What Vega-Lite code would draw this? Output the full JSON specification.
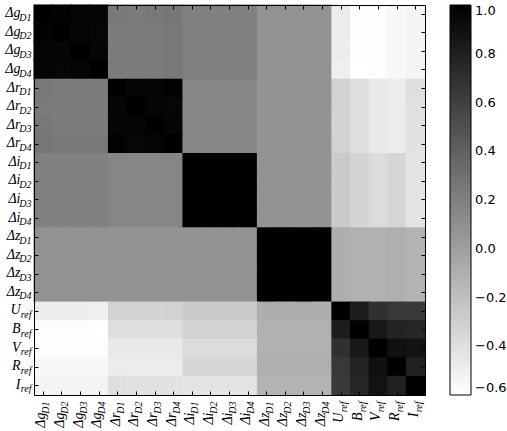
{
"$schema": "https://vega.github.io/schema/vega-lite/v6.json",
"width": 391, "height": 390,
"autosize": "none",
"padding": {"left": 34, "top": 5, "right": 82, "bottom": 36},
"background": "white",
"config": {"view": {"stroke": null}, "axis": {"grid": false, "title": null}},
"data": {"values": [
{"a":"g1","b":"g1","v":1},{"a":"g1","b":"g2","v":0.98},{"a":"g1","b":"g3","v":0.97},{"a":"g1","b":"g4","v":0.97},{"a":"g1","b":"r1","v":0.24},{"a":"g1","b":"r2","v":0.23},{"a":"g1","b":"r3","v":0.25},{"a":"g1","b":"r4","v":0.26},{"a":"g1","b":"i1","v":0.2},{"a":"g1","b":"i2","v":0.2},{"a":"g1","b":"i3","v":0.2},{"a":"g1","b":"i4","v":0.2},{"a":"g1","b":"z1","v":0.085},{"a":"g1","b":"z2","v":0.085},{"a":"g1","b":"z3","v":0.085},{"a":"g1","b":"z4","v":0.085},{"a":"g1","b":"U","v":-0.48},{"a":"g1","b":"B","v":-0.59},{"a":"g1","b":"V","v":-0.59},{"a":"g1","b":"R","v":-0.55},{"a":"g1","b":"I","v":-0.53},
{"a":"g2","b":"g1","v":0.98},{"a":"g2","b":"g2","v":1},{"a":"g2","b":"g3","v":0.97},{"a":"g2","b":"g4","v":0.96},{"a":"g2","b":"r1","v":0.22},{"a":"g2","b":"r2","v":0.22},{"a":"g2","b":"r3","v":0.22},{"a":"g2","b":"r4","v":0.25},{"a":"g2","b":"i1","v":0.2},{"a":"g2","b":"i2","v":0.2},{"a":"g2","b":"i3","v":0.2},{"a":"g2","b":"i4","v":0.2},{"a":"g2","b":"z1","v":0.085},{"a":"g2","b":"z2","v":0.085},{"a":"g2","b":"z3","v":0.085},{"a":"g2","b":"z4","v":0.085},{"a":"g2","b":"U","v":-0.48},{"a":"g2","b":"B","v":-0.59},{"a":"g2","b":"V","v":-0.59},{"a":"g2","b":"R","v":-0.55},{"a":"g2","b":"I","v":-0.53},
{"a":"g3","b":"g1","v":0.97},{"a":"g3","b":"g2","v":0.97},{"a":"g3","b":"g3","v":1},{"a":"g3","b":"g4","v":0.97},{"a":"g3","b":"r1","v":0.22},{"a":"g3","b":"r2","v":0.22},{"a":"g3","b":"r3","v":0.22},{"a":"g3","b":"r4","v":0.24},{"a":"g3","b":"i1","v":0.2},{"a":"g3","b":"i2","v":0.2},{"a":"g3","b":"i3","v":0.2},{"a":"g3","b":"i4","v":0.2},{"a":"g3","b":"z1","v":0.085},{"a":"g3","b":"z2","v":0.085},{"a":"g3","b":"z3","v":0.085},{"a":"g3","b":"z4","v":0.085},{"a":"g3","b":"U","v":-0.48},{"a":"g3","b":"B","v":-0.59},{"a":"g3","b":"V","v":-0.59},{"a":"g3","b":"R","v":-0.55},{"a":"g3","b":"I","v":-0.53},
{"a":"g4","b":"g1","v":0.97},{"a":"g4","b":"g2","v":0.96},{"a":"g4","b":"g3","v":0.97},{"a":"g4","b":"g4","v":1},{"a":"g4","b":"r1","v":0.23},{"a":"g4","b":"r2","v":0.22},{"a":"g4","b":"r3","v":0.22},{"a":"g4","b":"r4","v":0.25},{"a":"g4","b":"i1","v":0.2},{"a":"g4","b":"i2","v":0.2},{"a":"g4","b":"i3","v":0.2},{"a":"g4","b":"i4","v":0.2},{"a":"g4","b":"z1","v":0.085},{"a":"g4","b":"z2","v":0.085},{"a":"g4","b":"z3","v":0.085},{"a":"g4","b":"z4","v":0.085},{"a":"g4","b":"U","v":-0.5},{"a":"g4","b":"B","v":-0.6},{"a":"g4","b":"V","v":-0.59},{"a":"g4","b":"R","v":-0.55},{"a":"g4","b":"I","v":-0.53},
{"a":"r1","b":"g1","v":0.24},{"a":"r1","b":"g2","v":0.22},{"a":"r1","b":"g3","v":0.22},{"a":"r1","b":"g4","v":0.23},{"a":"r1","b":"r1","v":1},{"a":"r1","b":"r2","v":0.97},{"a":"r1","b":"r3","v":0.97},{"a":"r1","b":"r4","v":0.99},{"a":"r1","b":"i1","v":0.16},{"a":"r1","b":"i2","v":0.16},{"a":"r1","b":"i3","v":0.16},{"a":"r1","b":"i4","v":0.16},{"a":"r1","b":"z1","v":0.08},{"a":"r1","b":"z2","v":0.08},{"a":"r1","b":"z3","v":0.08},{"a":"r1","b":"z4","v":0.08},{"a":"r1","b":"U","v":-0.32},{"a":"r1","b":"B","v":-0.39},{"a":"r1","b":"V","v":-0.46},{"a":"r1","b":"R","v":-0.48},{"a":"r1","b":"I","v":-0.4},
{"a":"r2","b":"g1","v":0.23},{"a":"r2","b":"g2","v":0.22},{"a":"r2","b":"g3","v":0.22},{"a":"r2","b":"g4","v":0.22},{"a":"r2","b":"r1","v":0.97},{"a":"r2","b":"r2","v":1},{"a":"r2","b":"r3","v":0.97},{"a":"r2","b":"r4","v":0.96},{"a":"r2","b":"i1","v":0.16},{"a":"r2","b":"i2","v":0.16},{"a":"r2","b":"i3","v":0.16},{"a":"r2","b":"i4","v":0.16},{"a":"r2","b":"z1","v":0.08},{"a":"r2","b":"z2","v":0.08},{"a":"r2","b":"z3","v":0.08},{"a":"r2","b":"z4","v":0.08},{"a":"r2","b":"U","v":-0.32},{"a":"r2","b":"B","v":-0.39},{"a":"r2","b":"V","v":-0.46},{"a":"r2","b":"R","v":-0.48},{"a":"r2","b":"I","v":-0.41},
{"a":"r3","b":"g1","v":0.25},{"a":"r3","b":"g2","v":0.22},{"a":"r3","b":"g3","v":0.22},{"a":"r3","b":"g4","v":0.22},{"a":"r3","b":"r1","v":0.97},{"a":"r3","b":"r2","v":0.97},{"a":"r3","b":"r3","v":1},{"a":"r3","b":"r4","v":0.97},{"a":"r3","b":"i1","v":0.16},{"a":"r3","b":"i2","v":0.16},{"a":"r3","b":"i3","v":0.16},{"a":"r3","b":"i4","v":0.16},{"a":"r3","b":"z1","v":0.08},{"a":"r3","b":"z2","v":0.08},{"a":"r3","b":"z3","v":0.08},{"a":"r3","b":"z4","v":0.08},{"a":"r3","b":"U","v":-0.33},{"a":"r3","b":"B","v":-0.39},{"a":"r3","b":"V","v":-0.46},{"a":"r3","b":"R","v":-0.48},{"a":"r3","b":"I","v":-0.41},
{"a":"r4","b":"g1","v":0.26},{"a":"r4","b":"g2","v":0.25},{"a":"r4","b":"g3","v":0.24},{"a":"r4","b":"g4","v":0.25},{"a":"r4","b":"r1","v":0.99},{"a":"r4","b":"r2","v":0.96},{"a":"r4","b":"r3","v":0.97},{"a":"r4","b":"r4","v":1},{"a":"r4","b":"i1","v":0.16},{"a":"r4","b":"i2","v":0.16},{"a":"r4","b":"i3","v":0.16},{"a":"r4","b":"i4","v":0.16},{"a":"r4","b":"z1","v":0.08},{"a":"r4","b":"z2","v":0.08},{"a":"r4","b":"z3","v":0.08},{"a":"r4","b":"z4","v":0.08},{"a":"r4","b":"U","v":-0.32},{"a":"r4","b":"B","v":-0.39},{"a":"r4","b":"V","v":-0.46},{"a":"r4","b":"R","v":-0.48},{"a":"r4","b":"I","v":-0.42},
{"a":"i1","b":"g1","v":0.2},{"a":"i1","b":"g2","v":0.2},{"a":"i1","b":"g3","v":0.2},{"a":"i1","b":"g4","v":0.2},{"a":"i1","b":"r1","v":0.16},{"a":"i1","b":"r2","v":0.16},{"a":"i1","b":"r3","v":0.16},{"a":"i1","b":"r4","v":0.16},{"a":"i1","b":"i1","v":1},{"a":"i1","b":"i2","v":0.995},{"a":"i1","b":"i3","v":0.995},{"a":"i1","b":"i4","v":0.995},{"a":"i1","b":"z1","v":0.08},{"a":"i1","b":"z2","v":0.08},{"a":"i1","b":"z3","v":0.08},{"a":"i1","b":"z4","v":0.08},{"a":"i1","b":"U","v":-0.27},{"a":"i1","b":"B","v":-0.33},{"a":"i1","b":"V","v":-0.38},{"a":"i1","b":"R","v":-0.34},{"a":"i1","b":"I","v":-0.43},
{"a":"i2","b":"g1","v":0.2},{"a":"i2","b":"g2","v":0.2},{"a":"i2","b":"g3","v":0.2},{"a":"i2","b":"g4","v":0.2},{"a":"i2","b":"r1","v":0.16},{"a":"i2","b":"r2","v":0.16},{"a":"i2","b":"r3","v":0.16},{"a":"i2","b":"r4","v":0.16},{"a":"i2","b":"i1","v":0.995},{"a":"i2","b":"i2","v":1},{"a":"i2","b":"i3","v":0.995},{"a":"i2","b":"i4","v":0.995},{"a":"i2","b":"z1","v":0.08},{"a":"i2","b":"z2","v":0.08},{"a":"i2","b":"z3","v":0.08},{"a":"i2","b":"z4","v":0.08},{"a":"i2","b":"U","v":-0.27},{"a":"i2","b":"B","v":-0.33},{"a":"i2","b":"V","v":-0.38},{"a":"i2","b":"R","v":-0.34},{"a":"i2","b":"I","v":-0.43},
{"a":"i3","b":"g1","v":0.2},{"a":"i3","b":"g2","v":0.2},{"a":"i3","b":"g3","v":0.2},{"a":"i3","b":"g4","v":0.2},{"a":"i3","b":"r1","v":0.16},{"a":"i3","b":"r2","v":0.16},{"a":"i3","b":"r3","v":0.16},{"a":"i3","b":"r4","v":0.16},{"a":"i3","b":"i1","v":0.995},{"a":"i3","b":"i2","v":0.995},{"a":"i3","b":"i3","v":1},{"a":"i3","b":"i4","v":0.995},{"a":"i3","b":"z1","v":0.08},{"a":"i3","b":"z2","v":0.08},{"a":"i3","b":"z3","v":0.08},{"a":"i3","b":"z4","v":0.08},{"a":"i3","b":"U","v":-0.27},{"a":"i3","b":"B","v":-0.33},{"a":"i3","b":"V","v":-0.38},{"a":"i3","b":"R","v":-0.34},{"a":"i3","b":"I","v":-0.43},
{"a":"i4","b":"g1","v":0.2},{"a":"i4","b":"g2","v":0.2},{"a":"i4","b":"g3","v":0.2},{"a":"i4","b":"g4","v":0.2},{"a":"i4","b":"r1","v":0.16},{"a":"i4","b":"r2","v":0.16},{"a":"i4","b":"r3","v":0.16},{"a":"i4","b":"r4","v":0.16},{"a":"i4","b":"i1","v":0.995},{"a":"i4","b":"i2","v":0.995},{"a":"i4","b":"i3","v":0.995},{"a":"i4","b":"i4","v":1},{"a":"i4","b":"z1","v":0.08},{"a":"i4","b":"z2","v":0.08},{"a":"i4","b":"z3","v":0.08},{"a":"i4","b":"z4","v":0.08},{"a":"i4","b":"U","v":-0.27},{"a":"i4","b":"B","v":-0.33},{"a":"i4","b":"V","v":-0.38},{"a":"i4","b":"R","v":-0.34},{"a":"i4","b":"I","v":-0.43},
{"a":"z1","b":"g1","v":0.085},{"a":"z1","b":"g2","v":0.085},{"a":"z1","b":"g3","v":0.085},{"a":"z1","b":"g4","v":0.085},{"a":"z1","b":"r1","v":0.08},{"a":"z1","b":"r2","v":0.08},{"a":"z1","b":"r3","v":0.08},{"a":"z1","b":"r4","v":0.08},{"a":"z1","b":"i1","v":0.08},{"a":"z1","b":"i2","v":0.08},{"a":"z1","b":"i3","v":0.08},{"a":"z1","b":"i4","v":0.08},{"a":"z1","b":"z1","v":1},{"a":"z1","b":"z2","v":0.995},{"a":"z1","b":"z3","v":0.995},{"a":"z1","b":"z4","v":0.995},{"a":"z1","b":"U","v":-0.09},{"a":"z1","b":"B","v":-0.11},{"a":"z1","b":"V","v":-0.11},{"a":"z1","b":"R","v":-0.1},{"a":"z1","b":"I","v":-0.12},
{"a":"z2","b":"g1","v":0.085},{"a":"z2","b":"g2","v":0.085},{"a":"z2","b":"g3","v":0.085},{"a":"z2","b":"g4","v":0.085},{"a":"z2","b":"r1","v":0.08},{"a":"z2","b":"r2","v":0.08},{"a":"z2","b":"r3","v":0.08},{"a":"z2","b":"r4","v":0.08},{"a":"z2","b":"i1","v":0.08},{"a":"z2","b":"i2","v":0.08},{"a":"z2","b":"i3","v":0.08},{"a":"z2","b":"i4","v":0.08},{"a":"z2","b":"z1","v":0.995},{"a":"z2","b":"z2","v":1},{"a":"z2","b":"z3","v":0.995},{"a":"z2","b":"z4","v":0.995},{"a":"z2","b":"U","v":-0.09},{"a":"z2","b":"B","v":-0.11},{"a":"z2","b":"V","v":-0.11},{"a":"z2","b":"R","v":-0.1},{"a":"z2","b":"I","v":-0.12},
{"a":"z3","b":"g1","v":0.085},{"a":"z3","b":"g2","v":0.085},{"a":"z3","b":"g3","v":0.085},{"a":"z3","b":"g4","v":0.085},{"a":"z3","b":"r1","v":0.08},{"a":"z3","b":"r2","v":0.08},{"a":"z3","b":"r3","v":0.08},{"a":"z3","b":"r4","v":0.08},{"a":"z3","b":"i1","v":0.08},{"a":"z3","b":"i2","v":0.08},{"a":"z3","b":"i3","v":0.08},{"a":"z3","b":"i4","v":0.08},{"a":"z3","b":"z1","v":0.995},{"a":"z3","b":"z2","v":0.995},{"a":"z3","b":"z3","v":1},{"a":"z3","b":"z4","v":0.995},{"a":"z3","b":"U","v":-0.09},{"a":"z3","b":"B","v":-0.11},{"a":"z3","b":"V","v":-0.11},{"a":"z3","b":"R","v":-0.1},{"a":"z3","b":"I","v":-0.12},
{"a":"z4","b":"g1","v":0.085},{"a":"z4","b":"g2","v":0.085},{"a":"z4","b":"g3","v":0.085},{"a":"z4","b":"g4","v":0.085},{"a":"z4","b":"r1","v":0.08},{"a":"z4","b":"r2","v":0.08},{"a":"z4","b":"r3","v":0.08},{"a":"z4","b":"r4","v":0.08},{"a":"z4","b":"i1","v":0.08},{"a":"z4","b":"i2","v":0.08},{"a":"z4","b":"i3","v":0.08},{"a":"z4","b":"i4","v":0.08},{"a":"z4","b":"z1","v":0.995},{"a":"z4","b":"z2","v":0.995},{"a":"z4","b":"z3","v":0.995},{"a":"z4","b":"z4","v":1},{"a":"z4","b":"U","v":-0.09},{"a":"z4","b":"B","v":-0.11},{"a":"z4","b":"V","v":-0.11},{"a":"z4","b":"R","v":-0.1},{"a":"z4","b":"I","v":-0.12},
{"a":"U","b":"g1","v":-0.48},{"a":"U","b":"g2","v":-0.48},{"a":"U","b":"g3","v":-0.48},{"a":"U","b":"g4","v":-0.5},{"a":"U","b":"r1","v":-0.32},{"a":"U","b":"r2","v":-0.32},{"a":"U","b":"r3","v":-0.33},{"a":"U","b":"r4","v":-0.32},{"a":"U","b":"i1","v":-0.27},{"a":"U","b":"i2","v":-0.27},{"a":"U","b":"i3","v":-0.27},{"a":"U","b":"i4","v":-0.27},{"a":"U","b":"z1","v":-0.09},{"a":"U","b":"z2","v":-0.09},{"a":"U","b":"z3","v":-0.09},{"a":"U","b":"z4","v":-0.09},{"a":"U","b":"U","v":1},{"a":"U","b":"B","v":0.82},{"a":"U","b":"V","v":0.7},{"a":"U","b":"R","v":0.65},{"a":"U","b":"I","v":0.64},
{"a":"B","b":"g1","v":-0.59},{"a":"B","b":"g2","v":-0.59},{"a":"B","b":"g3","v":-0.59},{"a":"B","b":"g4","v":-0.6},{"a":"B","b":"r1","v":-0.39},{"a":"B","b":"r2","v":-0.39},{"a":"B","b":"r3","v":-0.39},{"a":"B","b":"r4","v":-0.39},{"a":"B","b":"i1","v":-0.33},{"a":"B","b":"i2","v":-0.33},{"a":"B","b":"i3","v":-0.33},{"a":"B","b":"i4","v":-0.33},{"a":"B","b":"z1","v":-0.11},{"a":"B","b":"z2","v":-0.11},{"a":"B","b":"z3","v":-0.11},{"a":"B","b":"z4","v":-0.11},{"a":"B","b":"U","v":0.82},{"a":"B","b":"B","v":1},{"a":"B","b":"V","v":0.85},{"a":"B","b":"R","v":0.78},{"a":"B","b":"I","v":0.76},
{"a":"V","b":"g1","v":-0.59},{"a":"V","b":"g2","v":-0.59},{"a":"V","b":"g3","v":-0.59},{"a":"V","b":"g4","v":-0.59},{"a":"V","b":"r1","v":-0.46},{"a":"V","b":"r2","v":-0.46},{"a":"V","b":"r3","v":-0.46},{"a":"V","b":"r4","v":-0.46},{"a":"V","b":"i1","v":-0.38},{"a":"V","b":"i2","v":-0.38},{"a":"V","b":"i3","v":-0.38},{"a":"V","b":"i4","v":-0.38},{"a":"V","b":"z1","v":-0.11},{"a":"V","b":"z2","v":-0.11},{"a":"V","b":"z3","v":-0.11},{"a":"V","b":"z4","v":-0.11},{"a":"V","b":"U","v":0.7},{"a":"V","b":"B","v":0.85},{"a":"V","b":"V","v":1},{"a":"V","b":"R","v":0.9},{"a":"V","b":"I","v":0.89},
{"a":"R","b":"g1","v":-0.55},{"a":"R","b":"g2","v":-0.55},{"a":"R","b":"g3","v":-0.55},{"a":"R","b":"g4","v":-0.55},{"a":"R","b":"r1","v":-0.48},{"a":"R","b":"r2","v":-0.48},{"a":"R","b":"r3","v":-0.48},{"a":"R","b":"r4","v":-0.48},{"a":"R","b":"i1","v":-0.34},{"a":"R","b":"i2","v":-0.34},{"a":"R","b":"i3","v":-0.34},{"a":"R","b":"i4","v":-0.34},{"a":"R","b":"z1","v":-0.1},{"a":"R","b":"z2","v":-0.1},{"a":"R","b":"z3","v":-0.1},{"a":"R","b":"z4","v":-0.1},{"a":"R","b":"U","v":0.65},{"a":"R","b":"B","v":0.78},{"a":"R","b":"V","v":0.9},{"a":"R","b":"R","v":1},{"a":"R","b":"I","v":0.79},
{"a":"I","b":"g1","v":-0.53},{"a":"I","b":"g2","v":-0.53},{"a":"I","b":"g3","v":-0.53},{"a":"I","b":"g4","v":-0.53},{"a":"I","b":"r1","v":-0.4},{"a":"I","b":"r2","v":-0.41},{"a":"I","b":"r3","v":-0.41},{"a":"I","b":"r4","v":-0.42},{"a":"I","b":"i1","v":-0.43},{"a":"I","b":"i2","v":-0.43},{"a":"I","b":"i3","v":-0.43},{"a":"I","b":"i4","v":-0.43},{"a":"I","b":"z1","v":-0.12},{"a":"I","b":"z2","v":-0.12},{"a":"I","b":"z3","v":-0.12},{"a":"I","b":"z4","v":-0.12},{"a":"I","b":"U","v":0.64},{"a":"I","b":"B","v":0.76},{"a":"I","b":"V","v":0.89},{"a":"I","b":"R","v":0.79},{"a":"I","b":"I","v":1}
]},
"layer": [
{"mark": {"type": "rect", "width": {"band": 1.06}, "height": {"band": 1.06}},
 "encoding": {
  "x": {"field": "b", "type": "nominal", "scale": {"domain": ["g1","g2","g3","g4","r1","r2","r3","r4","i1","i2","i3","i4","z1","z2","z3","z4","U","B","V","R","I"]},
        "axis": {"orient": "bottom", "domain": false, "ticks": false, "labelExpr": "length(datum.value) == 2 ? 'Δ' + substring(datum.value, 0, 1) : datum.value", "labelAngle": 270, "labelAlign": "right", "labelBaseline": "alphabetic", "labelOffset": 2, "labelPadding": 17, "labelFont": "Liberation Serif", "labelFontStyle": "italic", "labelFontSize": 14, "labelColor": "black", "labelOverlap": false}},
  "y": {"field": "a", "type": "nominal", "scale": {"domain": ["g1","g2","g3","g4","r1","r2","r3","r4","i1","i2","i3","i4","z1","z2","z3","z4","U","B","V","R","I"]},
        "axis": {"orient": "left", "domain": false, "ticks": false, "labelExpr": "length(datum.value) == 2 ? 'Δ' + substring(datum.value, 0, 1) : datum.value", "labelAlign": "right", "labelBaseline": "alphabetic", "labelOffset": 3, "labelPadding": 14, "labelFont": "Liberation Serif", "labelFontStyle": "italic", "labelFontSize": 14, "labelColor": "black", "labelOverlap": false}},
  "color": {"field": "v", "type": "quantitative",
        "scale": {"domain": [-0.6, 1], "range": ["#ffffff", "#000000"], "interpolate": "rgb"},
        "legend": {"type": "gradient", "direction": "vertical", "orient": "right", "offset": 24, "padding": 0, "title": null, "gradientLength": 390, "gradientThickness": 21, "gradientStrokeColor": "black", "gradientStrokeWidth": 1, "values": [-0.6, -0.4, -0.2, 0, 0.2, 0.4, 0.6, 0.8, 1], "format": ".1f", "labelFont": "DejaVu Sans", "labelFontSize": 13, "labelColor": "black", "labelOffset": 4, "labelOverlap": false, "labelBaseline": "middle"}}
 }},
{"mark": {"type": "rect", "opacity": 0},
 "encoding": {
  "x": {"field": "b", "type": "nominal", "scale": {"domain": ["g1","g2","g3","g4","r1","r2","r3","r4","i1","i2","i3","i4","z1","z2","z3","z4","U","B","V","R","I"]},
        "axis": {"orient": "bottom", "domain": false, "ticks": false, "labelExpr": "length(datum.value) == 2 ? 'D' + substring(datum.value, 1, 2) : 'ref'", "labelAngle": 270, "labelAlign": "right", "labelBaseline": "alphabetic", "labelOffset": 6, "labelPadding": 6, "labelFont": "Liberation Serif", "labelFontStyle": "italic", "labelFontSize": 10, "labelColor": "black", "labelOverlap": false}},
  "y": {"field": "a", "type": "nominal", "scale": {"domain": ["g1","g2","g3","g4","r1","r2","r3","r4","i1","i2","i3","i4","z1","z2","z3","z4","U","B","V","R","I"]},
        "axis": {"orient": "left", "domain": false, "ticks": false, "labelExpr": "length(datum.value) == 2 ? 'D' + substring(datum.value, 1, 2) : 'ref'", "labelAlign": "right", "labelBaseline": "alphabetic", "labelOffset": 6.5, "labelPadding": 3, "labelFont": "Liberation Serif", "labelFontStyle": "italic", "labelFontSize": 10, "labelColor": "black", "labelOverlap": false}}
 }},
{"mark": {"type": "rect", "opacity": 0},
 "encoding": {
  "x": {"field": "b", "type": "nominal", "scale": {"domain": ["g1","g2","g3","g4","r1","r2","r3","r4","i1","i2","i3","i4","z1","z2","z3","z4","U","B","V","R","I"]},
        "axis": {"orient": "top", "labels": false, "domain": true, "domainColor": "black", "domainWidth": 1, "ticks": true, "tickSize": -4, "tickColor": "black", "tickWidth": 1, "zindex": 2}},
  "y": {"field": "a", "type": "nominal", "scale": {"domain": ["g1","g2","g3","g4","r1","r2","r3","r4","i1","i2","i3","i4","z1","z2","z3","z4","U","B","V","R","I"]},
        "axis": {"orient": "right", "labels": false, "domain": true, "domainColor": "black", "domainWidth": 1, "ticks": true, "tickSize": -4, "tickColor": "black", "tickWidth": 1, "zindex": 2}}
 }},
{"mark": {"type": "rect", "opacity": 0},
 "encoding": {
  "x": {"field": "b", "type": "nominal", "scale": {"domain": ["g1","g2","g3","g4","r1","r2","r3","r4","i1","i2","i3","i4","z1","z2","z3","z4","U","B","V","R","I"]},
        "axis": {"orient": "bottom", "labels": false, "domain": true, "domainColor": "black", "domainWidth": 1, "ticks": true, "tickSize": -4, "tickColor": "black", "tickWidth": 1, "zindex": 2}},
  "y": {"field": "a", "type": "nominal", "scale": {"domain": ["g1","g2","g3","g4","r1","r2","r3","r4","i1","i2","i3","i4","z1","z2","z3","z4","U","B","V","R","I"]},
        "axis": {"orient": "left", "labels": false, "domain": true, "domainColor": "black", "domainWidth": 1, "ticks": true, "tickSize": -4, "tickColor": "black", "tickWidth": 1, "zindex": 2}}
 }}
],
"resolve": {"axis": {"x": "independent", "y": "independent"}}
}
